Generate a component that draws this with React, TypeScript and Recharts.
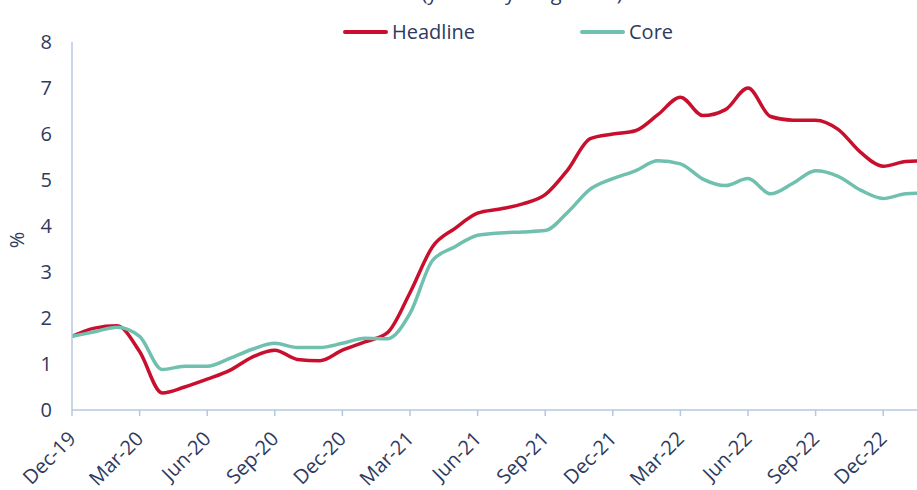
import { LineChart, Line, XAxis, YAxis, Legend } from "recharts";

const months = [
  "Dec-19", "Jan-20", "Feb-20", "Mar-20", "Apr-20", "May-20", "Jun-20", "Jul-20", "Aug-20", "Sep-20", "Oct-20", "Nov-20",
  "Dec-20", "Jan-21", "Feb-21", "Mar-21", "Apr-21", "May-21", "Jun-21", "Jul-21", "Aug-21", "Sep-21", "Oct-21", "Nov-21",
  "Dec-21", "Jan-22", "Feb-22", "Mar-22", "Apr-22", "May-22", "Jun-22", "Jul-22", "Aug-22", "Sep-22", "Oct-22", "Nov-22",
  "Dec-22", "Jan-23", "Feb-23",
];

const headline = [
  1.6, 1.78, 1.83, 1.27, 0.37, 0.5, 0.67, 0.86, 1.15, 1.3, 1.1, 1.07,
  1.3, 1.48, 1.68, 2.55, 3.55, 3.95, 4.28, 4.37, 4.48, 4.68, 5.22, 5.9,
  6.0, 6.07, 6.42, 6.8, 6.4, 6.53, 7.0, 6.38, 6.3, 6.3, 6.1, 5.6,
  5.3, 5.4, 5.42,
];

const core = [
  1.6, 1.7, 1.8, 1.6, 0.88, 0.95, 0.95, 1.12, 1.32, 1.45, 1.36, 1.36,
  1.45, 1.56, 1.55, 2.1, 3.25, 3.55, 3.8, 3.85, 3.87, 3.9, 4.3, 4.8,
  5.03, 5.2, 5.42, 5.35, 5.02, 4.88, 5.03, 4.7, 4.93, 5.2, 5.08, 4.78,
  4.6, 4.7, 4.72,
];

const xTicks = [0, 3, 6, 9, 12, 15, 18, 21, 24, 27, 30, 33, 36];
const yTicks = [0, 1, 2, 3, 4, 5, 6, 7, 8];

const data = months.map((m, i) => ({ idx: i, month: m, headline: headline[i], core: core[i] }));

const TEXT = "#2e3a60";
const AXIS = "#b4c7e2";
const RED = "#c8102e";
const TEAL = "#6fc0ae";
const FONT = "'Open Sans', sans-serif";

const XTick = ({ x, y, payload }: any) => (
  <text
    x={x + 5}
    y={y + 22}
    transform={`rotate(-45 ${x + 5} ${y + 22})`}
    textAnchor="end"
    fill={TEXT}
    fontSize={20}
    fontFamily={FONT}
  >
    {months[payload.value]}
  </text>
);

const LegendContent = () => (
  <div style={{ position: "relative", height: 30, fontFamily: FONT, fontSize: 20, color: TEXT }}>
    {[
      { name: "Headline", color: RED, left: 343 },
      { name: "Core", color: TEAL, left: 580 },
    ].map((it) => (
      <div key={it.name} style={{ position: "absolute", left: it.left, top: 0, display: "flex", alignItems: "center" }}>
        <span style={{ display: "inline-block", width: 45, height: 4, background: it.color, borderRadius: 2, marginRight: 4 }} />
        <span>{it.name}</span>
      </div>
    ))}
  </div>
);

export default function App() {
  return (
    <div style={{ position: "absolute", left: 0, top: 0, width: 917, height: 490, overflow: "hidden", background: "#fff" }}>
      <LineChart width={917} height={490} data={data} margin={{ top: 12, right: 0, bottom: 0, left: 0 }}>
        <XAxis
          dataKey="idx"
          type="number"
          domain={[0, 37.5]}
          allowDataOverflow
          ticks={xTicks}
          interval={0}
          tick={<XTick />}
          stroke={AXIS}
          strokeWidth={1.5}
          tickSize={6}
          height={80}
        />
        <YAxis
          domain={[0, 8]}
          ticks={yTicks}
          width={72}
          stroke={AXIS}
          strokeWidth={1.5}
          tickLine={false}
          tickSize={0}
          tickMargin={20}
          tick={{ fill: TEXT, fontSize: 20, fontFamily: FONT }}
        />
        <Legend verticalAlign="top" content={<LegendContent />} wrapperStyle={{ top: 18, left: 0, width: 917 }} />
        <Line type="monotone" dataKey="headline" name="Headline" stroke={RED} strokeWidth={3.5} dot={false} isAnimationActive={false} />
        <Line type="monotone" dataKey="core" name="Core" stroke={TEAL} strokeWidth={3.5} dot={false} isAnimationActive={false} />
      </LineChart>
      <svg width={917} height={490} style={{ position: "absolute", left: 0, top: 0, pointerEvents: "none" }}>
        <text x={522} y={0} textAnchor="middle" fill={TEXT} fontSize={20} fontFamily={FONT}>
          (year-on-year growth)
        </text>
        <text x={24} y={240} transform="rotate(-90 24 240)" textAnchor="middle" fill={TEXT} fontSize={20} fontFamily={FONT}>
          %
        </text>
      </svg>
    </div>
  );
}
